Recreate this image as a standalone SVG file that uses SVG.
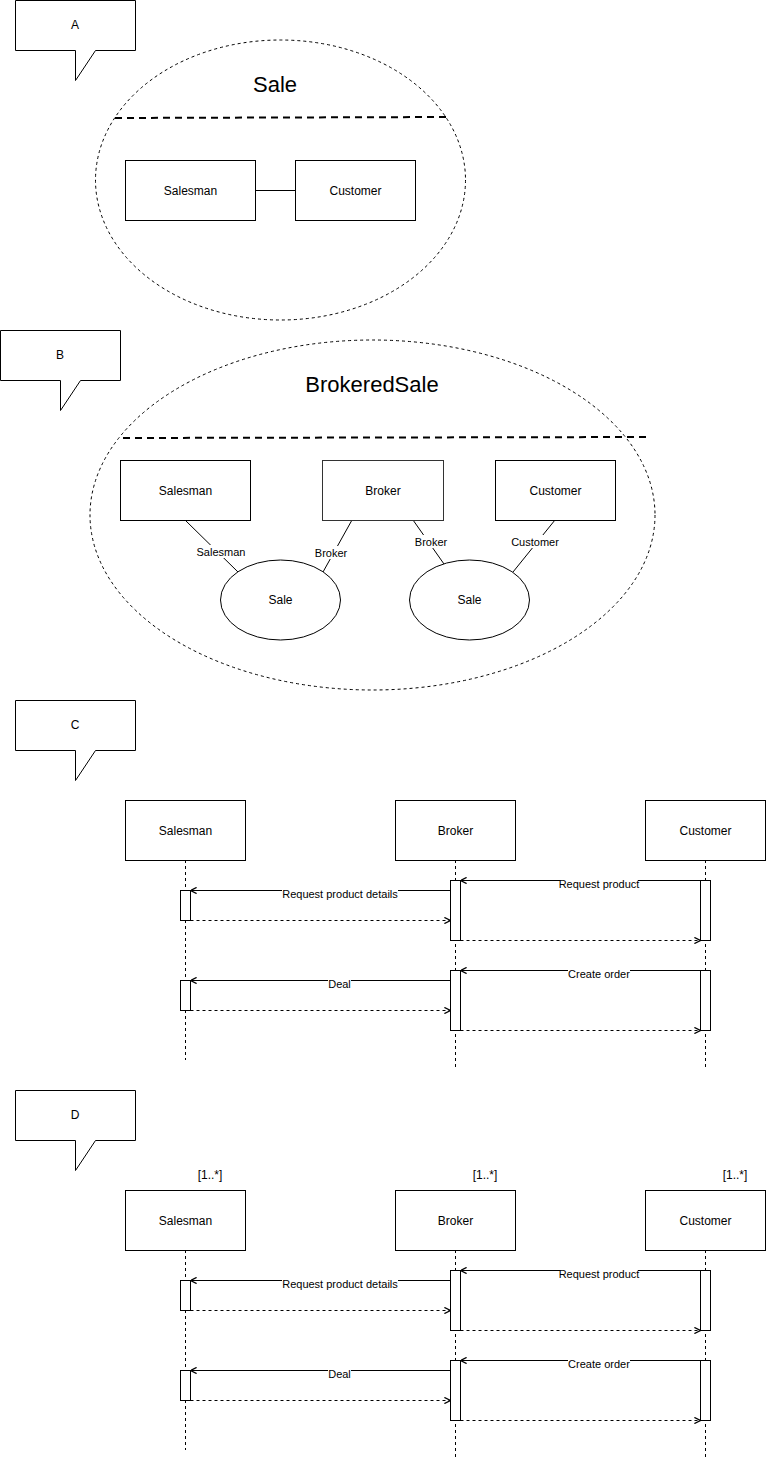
<svg xmlns="http://www.w3.org/2000/svg" width="766" height="1462" viewBox="0 0 766 1462">
<style>
text{font-family:"Liberation Sans",Arial,Helvetica,sans-serif;fill:#000;text-anchor:middle}
.t12{font-size:12px}
.t11{font-size:11px}
.t22{font-size:22px}
.box{fill:#fff;stroke:#000;stroke-width:1}
.frame{fill:none;stroke:#000;stroke-width:1;stroke-dasharray:3 3}
.sep{fill:none;stroke:#000;stroke-width:2;stroke-dasharray:7 5}
.line{fill:none;stroke:#000;stroke-width:1}
.life{fill:none;stroke:#000;stroke-width:1;stroke-dasharray:3 3}
.msg{fill:none;stroke:#000;stroke-width:1;marker-end:url(#arr)}
.ret{fill:none;stroke:#000;stroke-width:1;stroke-dasharray:3 3;marker-end:url(#arr)}
.lbg{fill:#fff;stroke:none}
</style>
<defs>
<marker id="arr" viewBox="0 0 8 8" refX="8" refY="4" markerWidth="7" markerHeight="7" markerUnits="userSpaceOnUse" orient="auto">
<path d="M1,0.5 L8,4 L1,7.5" fill="none" stroke="#000" stroke-width="1.5"/>
</marker>
</defs>
<rect x="0" y="0" width="766" height="1462" fill="#fff"/>

<!-- Callouts -->
<g id="callout-A"><path class="box" d="M15.5,0.5 H135.5 V50.5 H95.5 L75.5,80.5 V50.5 H15.5 Z"/><text class="t12" x="75" y="29">A</text></g>
<g id="callout-B"><path class="box" d="M0.5,330.5 H120.5 V380.5 H80.5 L60.5,410.5 V380.5 H0.5 Z"/><text class="t12" x="60" y="359">B</text></g>
<g id="callout-C"><path class="box" d="M15.5,700.5 H135.5 V750.5 H95.5 L75.5,780.5 V750.5 H15.5 Z"/><text class="t12" x="75" y="729">C</text></g>
<g id="callout-D"><path class="box" d="M15.5,1090.5 H135.5 V1140.5 H95.5 L75.5,1170.5 V1140.5 H15.5 Z"/><text class="t12" x="75" y="1119">D</text></g>

<!-- Section A -->
<g id="sale-collab">
<ellipse class="frame" cx="280.5" cy="180" rx="185" ry="140"/>
<text class="t22" x="275" y="92">Sale</text>
<line class="sep" x1="115" y1="118" x2="447" y2="117"/>
</g>
<g id="connectors-A">
<line class="line" x1="255.5" y1="190.5" x2="295.5" y2="190.5"/>
</g>
<g id="A-salesman"><rect class="box" x="125.5" y="160.5" width="130" height="60"/><text class="t12" x="190.5" y="194.5">Salesman</text></g>
<g id="A-customer"><rect class="box" x="295.5" y="160.5" width="120" height="60"/><text class="t12" x="355.5" y="194.5">Customer</text></g>

<!-- Section B -->
<g id="brokeredsale-collab">
<ellipse class="frame" cx="372.5" cy="515" rx="282.5" ry="175"/>
<text class="t22" x="372" y="392">BrokeredSale</text>
<line class="sep" x1="123" y1="438" x2="647" y2="437"/>
</g>
<g id="connectors-B">
<line class="line" x1="185" y1="520" x2="238" y2="572"/>
<line class="line" x1="352" y1="520" x2="323" y2="572"/>
<line class="line" x1="413" y1="520" x2="444" y2="564"/>
<line class="line" x1="555" y1="520" x2="513" y2="572"/>
<rect class="lbg" x="196" y="545" width="50" height="13"/>
<text class="t11" x="221" y="556">Salesman</text>
<rect class="lbg" x="314" y="546" width="34" height="13"/>
<text class="t11" x="331" y="557">Broker</text>
<rect class="lbg" x="414" y="535" width="34" height="13"/>
<text class="t11" x="431" y="545.5">Broker</text>
<rect class="lbg" x="510" y="535" width="50" height="13"/>
<text class="t11" x="535" y="545.5">Customer</text>
</g>
<g id="B-salesman"><rect class="box" x="120.5" y="460.5" width="130" height="60"/><text class="t12" x="185.5" y="494.5">Salesman</text></g>
<g id="B-broker"><rect class="box" x="322.5" y="460.5" width="121" height="60" style="stroke:#333"/><text class="t12" x="383" y="494.5">Broker</text></g>
<g id="B-customer"><rect class="box" x="495.5" y="460.5" width="120" height="60"/><text class="t12" x="555.5" y="494.5">Customer</text></g>
<g id="B-sale1"><ellipse class="box" cx="280.5" cy="600" rx="60" ry="40"/><text class="t12" x="280.5" y="604">Sale</text></g>
<g id="B-sale2"><ellipse class="box" cx="469.5" cy="600" rx="60" ry="40"/><text class="t12" x="469.5" y="604">Sale</text></g>

<!-- Section C -->
<g id="connectors-C">
<line class="life" x1="185.5" y1="860" x2="185.5" y2="1060"/>
<line class="life" x1="455.5" y1="860" x2="455.5" y2="1070"/>
<line class="life" x1="705.5" y1="860" x2="705.5" y2="1070"/>
</g>
<g id="C-salesman"><rect class="box" x="125.5" y="800.5" width="120" height="60"/><text class="t12" x="185.5" y="834.5">Salesman</text></g>
<g id="C-broker"><rect class="box" x="395.5" y="800.5" width="120" height="60"/><text class="t12" x="455.5" y="834.5">Broker</text></g>
<g id="C-customer"><rect class="box" x="645.5" y="800.5" width="120" height="60"/><text class="t12" x="705.5" y="834.5">Customer</text></g>
<g id="C-activations">
<rect class="box" x="180.5" y="890.5" width="10" height="30"/>
<rect class="box" x="180.5" y="980.5" width="10" height="30"/>
<rect class="box" x="450.5" y="880.5" width="10" height="60"/>
<rect class="box" x="450.5" y="970.5" width="10" height="60"/>
<rect class="box" x="700.5" y="880.5" width="10" height="60"/>
<rect class="box" x="700.5" y="970.5" width="10" height="60"/>
</g>
<g id="messages-C">
<line class="msg" x1="450.5" y1="890.5" x2="190.5" y2="890.5"/>
<line class="ret" x1="190.5" y1="920.5" x2="450.5" y2="920.5"/>
<line class="msg" x1="700.5" y1="880.5" x2="460.5" y2="880.5"/>
<line class="ret" x1="460.5" y1="940.5" x2="700.5" y2="940.5"/>
<line class="msg" x1="450.5" y1="980.5" x2="190.5" y2="980.5"/>
<line class="ret" x1="190.5" y1="1010.5" x2="450.5" y2="1010.5"/>
<line class="msg" x1="700.5" y1="970.5" x2="460.5" y2="970.5"/>
<line class="ret" x1="460.5" y1="1030.5" x2="700.5" y2="1030.5"/>
<rect class="lbg" x="282" y="887" width="116" height="13"/>
<text class="t11" x="340" y="898">Request product details</text>
<rect class="lbg" x="560" y="877" width="78" height="13"/>
<text class="t11" x="599" y="888">Request product</text>
<rect class="lbg" x="328" y="977" width="23" height="13"/>
<text class="t11" x="339.5" y="988">Deal</text>
<rect class="lbg" x="568" y="967" width="62" height="13"/>
<text class="t11" x="599" y="978">Create order</text>
</g>

<!-- Section D -->
<g id="multiplicities-D">
<text class="t12" x="210" y="1179">[1..*]</text>
<text class="t12" x="485" y="1179">[1..*]</text>
<text class="t12" x="735" y="1179">[1..*]</text>
</g>
<g id="connectors-D">
<line class="life" x1="185.5" y1="1250" x2="185.5" y2="1450"/>
<line class="life" x1="455.5" y1="1250" x2="455.5" y2="1460"/>
<line class="life" x1="705.5" y1="1250" x2="705.5" y2="1460"/>
</g>
<g id="D-salesman"><rect class="box" x="125.5" y="1190.5" width="120" height="60"/><text class="t12" x="185.5" y="1224.5">Salesman</text></g>
<g id="D-broker"><rect class="box" x="395.5" y="1190.5" width="120" height="60"/><text class="t12" x="455.5" y="1224.5">Broker</text></g>
<g id="D-customer"><rect class="box" x="645.5" y="1190.5" width="120" height="60"/><text class="t12" x="705.5" y="1224.5">Customer</text></g>
<g id="D-activations">
<rect class="box" x="180.5" y="1280.5" width="10" height="30"/>
<rect class="box" x="180.5" y="1370.5" width="10" height="30"/>
<rect class="box" x="450.5" y="1270.5" width="10" height="60"/>
<rect class="box" x="450.5" y="1360.5" width="10" height="60"/>
<rect class="box" x="700.5" y="1270.5" width="10" height="60"/>
<rect class="box" x="700.5" y="1360.5" width="10" height="60"/>
</g>
<g id="messages-D">
<line class="msg" x1="450.5" y1="1280.5" x2="190.5" y2="1280.5"/>
<line class="ret" x1="190.5" y1="1310.5" x2="450.5" y2="1310.5"/>
<line class="msg" x1="700.5" y1="1270.5" x2="460.5" y2="1270.5"/>
<line class="ret" x1="460.5" y1="1330.5" x2="700.5" y2="1330.5"/>
<line class="msg" x1="450.5" y1="1370.5" x2="190.5" y2="1370.5"/>
<line class="ret" x1="190.5" y1="1400.5" x2="450.5" y2="1400.5"/>
<line class="msg" x1="700.5" y1="1360.5" x2="460.5" y2="1360.5"/>
<line class="ret" x1="460.5" y1="1420.5" x2="700.5" y2="1420.5"/>
<rect class="lbg" x="282" y="1277" width="116" height="13"/>
<text class="t11" x="340" y="1288">Request product details</text>
<rect class="lbg" x="560" y="1267" width="78" height="13"/>
<text class="t11" x="599" y="1278">Request product</text>
<rect class="lbg" x="328" y="1367" width="23" height="13"/>
<text class="t11" x="339.5" y="1378">Deal</text>
<rect class="lbg" x="568" y="1357" width="62" height="13"/>
<text class="t11" x="599" y="1368">Create order</text>
</g>
</svg>
